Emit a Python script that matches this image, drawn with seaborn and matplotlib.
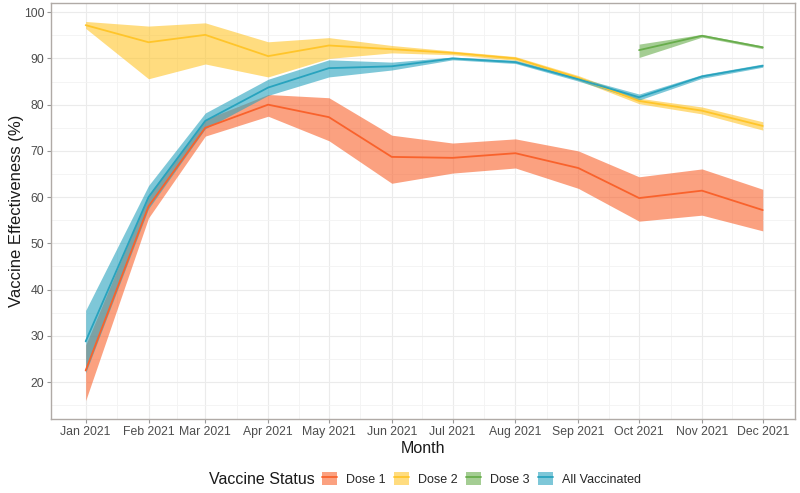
import numpy as np
import pandas as pd
import seaborn as sns
import matplotlib.pyplot as plt
import matplotlib.dates as mdates
from matplotlib.patches import Patch
from matplotlib.lines import Line2D

months = pd.date_range("2021-01-01", "2021-12-01", freq="MS")

dose1 = [22.5, 58.0, 75.0, 80.0, 77.3, 68.7, 68.5, 69.5, 66.3, 59.8, 61.4, 57.2]
dose1_lo = [16.0, 55.5, 73.2, 77.5, 72.2, 63.0, 65.2, 66.3, 61.9, 54.8, 56.1, 52.7]
dose1_hi = [28.0, 60.5, 76.8, 82.2, 81.5, 73.4, 71.7, 72.6, 70.0, 64.4, 66.1, 61.7]

dose2 = [97.2, 93.5, 95.1, 90.5, 92.8, 92.0, 91.2, 90.0, 85.8, 80.8, 78.7, 75.4]
dose2_lo = [96.5, 85.6, 88.8, 86.0, 90.0, 91.2, 90.8, 89.6, 85.3, 80.2, 78.0, 74.5]
dose2_hi = [98.0, 97.0, 97.7, 93.6, 94.5, 92.8, 91.6, 90.4, 86.3, 81.4, 79.5, 76.3]

dose3 = [np.nan] * 9 + [91.8, 94.9, 92.4]
dose3_lo = [np.nan] * 9 + [90.2, 94.6, 92.1]
dose3_hi = [np.nan] * 9 + [93.1, 95.2, 92.7]

allvax = [28.8, 60.0, 76.5, 83.7, 87.9, 88.3, 90.0, 89.2, 85.5, 81.6, 86.1, 88.4]
allvax_lo = [22.0, 57.5, 74.8, 82.0, 86.0, 87.5, 89.7, 88.9, 85.1, 81.0, 85.7, 88.1]
allvax_hi = [35.5, 62.5, 78.2, 85.5, 89.7, 89.2, 90.3, 89.6, 85.9, 82.3, 86.5, 88.8]

statuses = ["Dose 1", "Dose 2", "Dose 3", "All Vaccinated"]
colors = {"Dose 1": "#F9622C", "Dose 2": "#FFC52A",
          "Dose 3": "#68AD4C", "All Vaccinated": "#28A3BE"}

series = {
    "Dose 1": (dose1, dose1_lo, dose1_hi),
    "Dose 2": (dose2, dose2_lo, dose2_hi),
    "Dose 3": (dose3, dose3_lo, dose3_hi),
    "All Vaccinated": (allvax, allvax_lo, allvax_hi),
}

frames = []
for s in statuses:
    ve, lo, hi = series[s]
    frames.append(pd.DataFrame({"Month": months, "VE": ve, "lo": lo, "hi": hi, "Status": s}))
df = pd.concat(frames).dropna()

sns.set_style("white")
plt.rcParams["font.family"] = ["Liberation Sans", "DejaVu Sans"]

fig = plt.figure(figsize=(8, 4.93), dpi=100)
ax = fig.add_axes([0.064, 0.150, 0.930, 0.844])

for s in statuses:
    d = df[df["Status"] == s]
    ax.fill_between(d["Month"], d["lo"], d["hi"], color=colors[s], alpha=0.6, lw=0, zorder=2)
sns.lineplot(data=df, x="Month", y="VE", hue="Status", hue_order=statuses,
             palette=colors, errorbar=None, lw=1.3, legend=False, ax=ax, zorder=3)

ax.set_ylim(12, 102)
ax.set_xlim(pd.Timestamp("2020-12-15"), pd.Timestamp("2021-12-17"))
ax.set_yticks(range(20, 101, 10))
ax.set_yticks(range(15, 101, 10), minor=True)
ax.xaxis.set_major_locator(mdates.MonthLocator())
ax.xaxis.set_major_formatter(mdates.DateFormatter("%b %Y"))
mids = months[:-1] + (months[1:] - months[:-1]) / 2
ax.set_xticks(mdates.date2num(mids), minor=True)

ax.grid(True, which="major", color="#EBEBEB", lw=0.8, zorder=0)
ax.grid(True, which="minor", color="#F3F3F3", lw=0.6, zorder=0)
ax.set_axisbelow(True)
for sp in ax.spines.values():
    sp.set_color("#B0AAA6")
    sp.set_linewidth(1.0)

ax.tick_params(axis="both", which="major", labelsize=8.8, labelcolor="#4D4D4D",
               color="#999999", length=3, width=0.8, pad=2, bottom=True, left=True)
ax.tick_params(axis="both", which="minor", length=0)
ax.set_xlabel("Month", fontsize=11.5, color="#1A1A1A", labelpad=2)
ax.set_ylabel("Vaccine Effectiveness (%)", fontsize=12, color="#1A1A1A", labelpad=0)

fig.text(0.261, 0.027, "Vaccine Status", fontsize=11.5, color="#1A1A1A", ha="left", va="center")
handles = [(Patch(facecolor=colors[s], alpha=0.6, lw=0), Line2D([], [], color=colors[s], lw=1.3))
           for s in statuses]
fig.legend(handles, statuses, loc="center left", bbox_to_anchor=(0.403, 0.029), ncol=4,
           frameon=False, fontsize=9, handlelength=1.2, handleheight=1.2,
           handletextpad=0.72, columnspacing=0.65, borderpad=0, borderaxespad=0)

fig.savefig("out.png", dpi=100)
